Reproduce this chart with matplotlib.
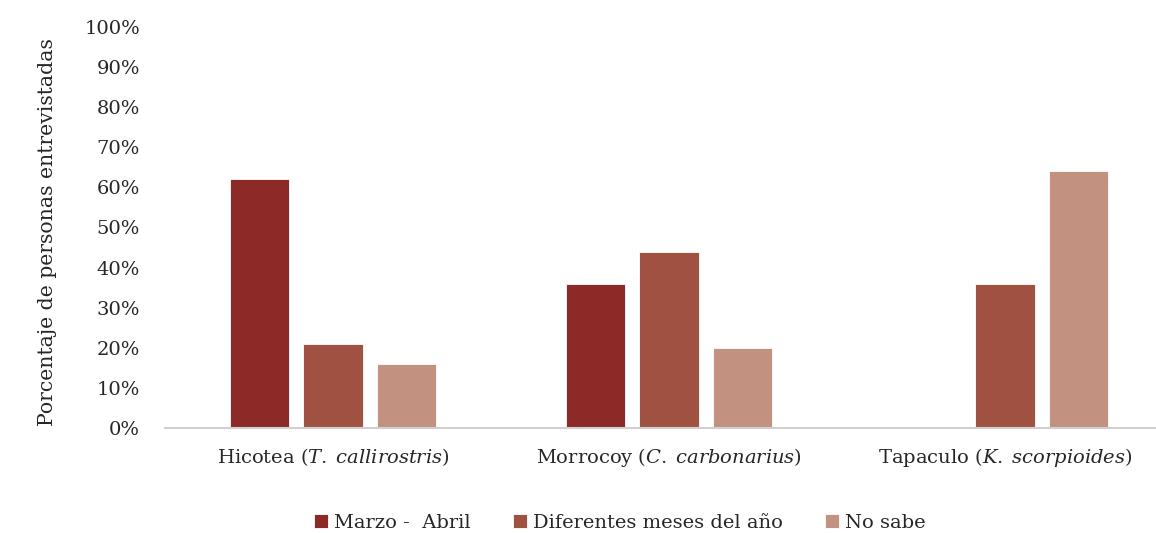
import matplotlib.pyplot as plt
import numpy as np

plt.rcParams['font.family'] = 'DejaVu Serif'
plt.rcParams['mathtext.fontset'] = 'custom'
plt.rcParams['mathtext.rm'] = 'DejaVu Serif'
plt.rcParams['mathtext.it'] = 'DejaVu Serif:italic'

categories = [r'Hicotea ($\mathit{T.\;callirostris}$)',
              r'Morrocoy ($\mathit{C.\;carbonarius}$)',
              r'Tapaculo ($\mathit{K.\;scorpioides}$)']
series = ['Marzo -  Abril', 'Diferentes meses del año', 'No sabe']
marzo_abril = [0.62, 0.36, 0.0]
diferentes_meses = [0.21, 0.44, 0.36]
no_sabe = [0.16, 0.20, 0.64]
yticks = np.arange(0, 1.01, 0.1)

colors = ['#8B2A26', '#A05242', '#C39180']
text_color = '#262626'

fig = plt.figure(figsize=(11.56, 5.33), dpi=100)
ax = fig.add_axes([165 / 1156, 105 / 533, 1008 / 1156, 401 / 533])

x = np.arange(len(categories))
width = 0.176
step = 0.22
for i, (vals, name, c) in enumerate(zip([marzo_abril, diferentes_meses, no_sabe], series, colors)):
    ax.bar(x + (i - 1) * step, vals, width, color=c, label=name,
           edgecolor='white', linewidth=0.6)

ax.set_xlim(-0.5, 2.5)
ax.set_ylim(0, 1)
ax.set_yticks(yticks)
ax.set_yticklabels([f'{int(round(v * 100))}%' for v in yticks])
ax.set_xticks(x)
ax.set_xticklabels(categories)

for side in ['top', 'right', 'left']:
    ax.spines[side].set_visible(False)
ax.spines['bottom'].set_color('#D0D0D0')
ax.spines['bottom'].set_linewidth(1.5)
ax.tick_params(axis='y', length=0, pad=18, labelsize=14, labelcolor=text_color)
ax.tick_params(axis='x', length=0, pad=13, labelsize=14, labelcolor=text_color)

fig.text(48 / 1156, 1 - 232 / 533, 'Porcentaje de personas entrevistadas', rotation=90,
         ha='center', va='center', fontsize=14.7, color=text_color)

leg = fig.legend(loc='center', bbox_to_anchor=(620 / 1156, 10 / 533), ncol=3,
                 frameon=False, fontsize=14, handlelength=0.7, handleheight=0.7,
                 handletextpad=0.3, columnspacing=2.2, labelcolor=text_color)

fig.savefig('out.png', dpi=100)
